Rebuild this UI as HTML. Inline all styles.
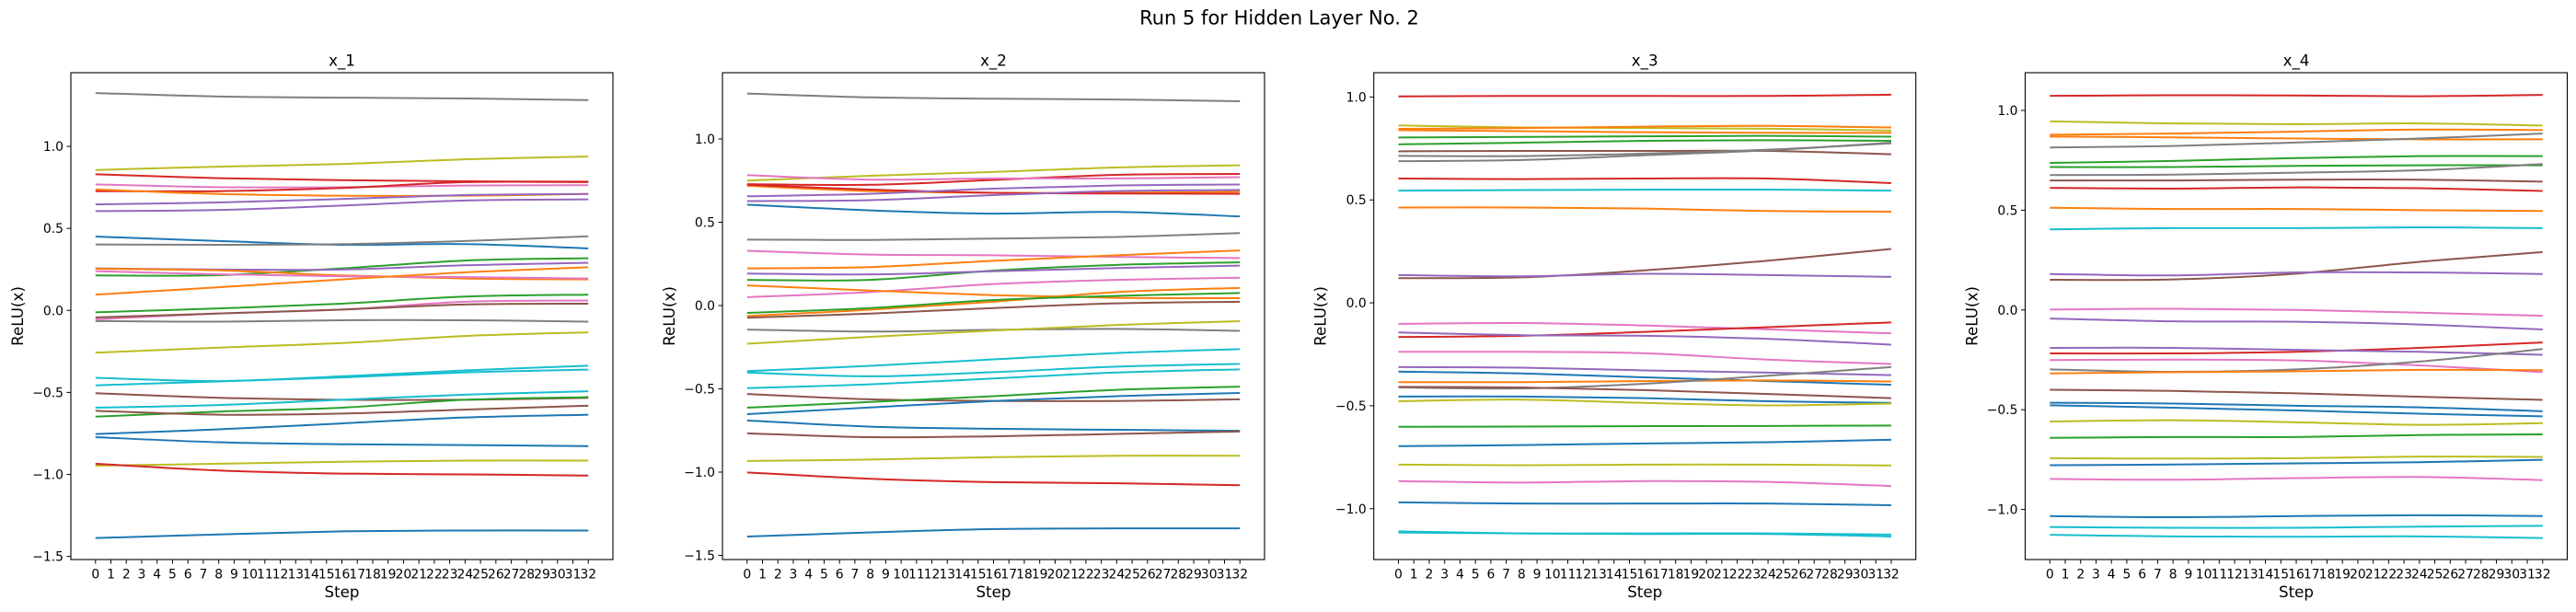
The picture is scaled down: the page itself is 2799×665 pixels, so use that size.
<!DOCTYPE html>
<html><head><meta charset="utf-8">
<style>
html,body{margin:0;padding:0;background:#fff;}
svg{display:block;font-family:"DejaVu Sans","Liberation Sans",sans-serif;}
</style></head>
<body>
<svg id="fig" width="2799" height="665" viewBox="0 0 2799 665" xmlns="http://www.w3.org/2000/svg">
<rect width="2799" height="665" fill="#fff"/>
<text x="1390" y="26.5" font-size="21" text-anchor="middle" fill="#000">Run 5 for Hidden Layer No. 2</text>
</svg>
<script>
const steps = [0, 8, 16, 24, 32];
const xTickLabels = ["0","1","2","3","4","5","6","7","8","9","10","11","12","13","14","15","16","17","18","19","20","21","22","23","24","25","26","27","28","29","30","31","32"];
const panelTitles = ["x_1", "x_2", "x_3", "x_4"];
const yTicks12 = [-1.5, -1.0, -0.5, 0.0, 0.5, 1.0];
const yTicks34 = [-1.0, -0.5, 0.0, 0.5, 1.0];
const yLims = [[-1.519, 1.449], [-1.525, 1.398], [-1.247, 1.118], [-1.251, 1.189]];

const C = {blue:"#1f77b4",orange:"#ff7f0e",green:"#2ca02c",red:"#d62728",purple:"#9467bd",brown:"#8c564b",pink:"#e377c2",gray:"#7f7f7f",olive:"#bcbd22",cyan:"#17becf"};

const colors1 = ["gray","olive","red","pink","red","orange","purple","purple","blue","gray","green","purple","orange","pink","orange","green","pink","brown","gray","olive","cyan","cyan","brown","cyan","green","brown","blue","blue","olive","red","blue"];
const values1 = [
[1.325,1.304,1.297,1.292,1.282],[0.856,0.876,0.892,0.921,0.938],[0.83,0.806,0.794,0.787,0.785],[0.768,0.751,0.751,0.761,0.763],
[0.727,0.727,0.746,0.782,0.782],[0.737,0.71,0.699,0.699,0.71],[0.646,0.658,0.679,0.703,0.71],[0.605,0.612,0.639,0.67,0.677],
[0.45,0.423,0.4,0.404,0.378],[0.402,0.4,0.404,0.423,0.452],[0.213,0.215,0.256,0.304,0.318],[0.256,0.249,0.249,0.275,0.29],
[0.254,0.244,0.213,0.194,0.189],[0.239,0.22,0.208,0.203,0.194],[0.096,0.141,0.189,0.232,0.263],[-0.012,0.012,0.041,0.084,0.096],
[-0.055,-0.019,0.005,0.053,0.06],[-0.043,-0.019,0.005,0.036,0.041],[-0.065,-0.069,-0.06,-0.06,-0.069],[-0.258,-0.227,-0.199,-0.156,-0.134],
[-0.411,-0.431,-0.402,-0.366,-0.337],[-0.457,-0.433,-0.409,-0.378,-0.361],[-0.505,-0.533,-0.545,-0.545,-0.533],[-0.593,-0.577,-0.545,-0.514,-0.493],
[-0.648,-0.617,-0.593,-0.545,-0.529],[-0.612,-0.636,-0.629,-0.605,-0.581],[-0.754,-0.725,-0.689,-0.653,-0.636],[-0.773,-0.804,-0.816,-0.821,-0.828],
[-0.947,-0.935,-0.923,-0.916,-0.916],[-0.935,-0.976,-0.995,-1.0,-1.007],[-1.388,-1.366,-1.347,-1.342,-1.342]];

const colors2 = ["gray","olive","red","pink","orange","red","purple","purple","blue","gray","pink","orange","green","purple","pink","orange","orange","green","brown","gray","olive","cyan","cyan","cyan","brown","green","blue","blue","brown","olive","red","blue"];
const values2 = [
[1.273,1.25,1.242,1.237,1.227],[0.75,0.779,0.802,0.829,0.842],[0.729,0.725,0.754,0.785,0.79],[0.783,0.756,0.763,0.763,0.771],
[0.719,0.687,0.677,0.677,0.683],[0.725,0.696,0.677,0.673,0.671],[0.656,0.671,0.702,0.721,0.727],[0.627,0.633,0.663,0.687,0.694],
[0.606,0.571,0.552,0.562,0.535],[0.396,0.394,0.402,0.412,0.435],[0.329,0.306,0.302,0.292,0.285],[0.223,0.231,0.269,0.302,0.331],
[0.154,0.154,0.21,0.244,0.26],[0.192,0.187,0.206,0.225,0.24],[0.05,0.081,0.129,0.154,0.167],[0.121,0.09,0.062,0.046,0.044],
[-0.063,-0.025,0.023,0.081,0.106],[-0.044,-0.015,0.033,0.058,0.075],[-0.073,-0.048,-0.015,0.013,0.023],[-0.144,-0.156,-0.146,-0.14,-0.152],
[-0.229,-0.188,-0.15,-0.117,-0.094],[-0.394,-0.362,-0.323,-0.285,-0.262],[-0.402,-0.425,-0.4,-0.367,-0.35],[-0.496,-0.473,-0.438,-0.402,-0.383],
[-0.531,-0.563,-0.573,-0.573,-0.563],[-0.613,-0.579,-0.544,-0.506,-0.487],[-0.652,-0.612,-0.573,-0.544,-0.525],[-0.69,-0.727,-0.74,-0.746,-0.752],
[-0.767,-0.79,-0.785,-0.771,-0.756],[-0.933,-0.925,-0.91,-0.902,-0.902],[-1.002,-1.04,-1.06,-1.067,-1.079],[-1.387,-1.362,-1.342,-1.338,-1.338]];

const colors3 = ["red","olive","orange","orange","green","green","brown","gray","gray","red","cyan","orange","brown","purple","pink","red","purple","pink","purple","blue","orange","gray","brown","blue","olive","green","blue","olive","pink","blue","cyan","cyan"];
const values3 = [
[1.003,1.005,1.005,1.005,1.011],[0.862,0.852,0.849,0.846,0.837],[0.845,0.849,0.856,0.86,0.852],[0.839,0.834,0.829,0.826,0.826],
[0.803,0.806,0.809,0.811,0.807],[0.77,0.778,0.787,0.79,0.787],[0.736,0.738,0.738,0.738,0.722],[0.714,0.713,0.725,0.744,0.775],
[0.688,0.694,0.717,0.741,0.778],[0.604,0.601,0.604,0.604,0.582],[0.545,0.548,0.55,0.55,0.545],[0.463,0.463,0.458,0.446,0.443],
[0.12,0.124,0.158,0.205,0.262],[0.135,0.129,0.141,0.135,0.126],[-0.102,-0.098,-0.11,-0.129,-0.148],[-0.166,-0.16,-0.141,-0.118,-0.095],
[-0.144,-0.157,-0.16,-0.175,-0.203],[-0.238,-0.238,-0.245,-0.276,-0.297],[-0.312,-0.315,-0.328,-0.339,-0.351],[-0.334,-0.343,-0.362,-0.38,-0.398],
[-0.385,-0.385,-0.38,-0.377,-0.382],[-0.411,-0.416,-0.393,-0.354,-0.312],[-0.408,-0.411,-0.424,-0.443,-0.463],[-0.455,-0.455,-0.463,-0.478,-0.486],
[-0.478,-0.47,-0.486,-0.498,-0.489],[-0.602,-0.601,-0.599,-0.598,-0.596],[-0.696,-0.691,-0.683,-0.677,-0.665],[-0.786,-0.789,-0.786,-0.786,-0.79],
[-0.866,-0.873,-0.866,-0.87,-0.89],[-0.969,-0.975,-0.975,-0.975,-0.983],[-1.11,-1.12,-1.12,-1.12,-1.126],[-1.116,-1.12,-1.123,-1.123,-1.135]];

const colors4 = ["red","olive","orange","orange","gray","green","green","gray","brown","red","orange","cyan","brown","purple","pink","purple","red","purple","pink","gray","orange","brown","blue","blue","olive","green","olive","blue","pink","blue","cyan","cyan"];
const values4 = [
[1.073,1.076,1.075,1.071,1.078],[0.945,0.935,0.931,0.935,0.924],[0.878,0.884,0.894,0.904,0.902],[0.869,0.865,0.859,0.855,0.855],
[0.814,0.822,0.839,0.859,0.884],[0.737,0.747,0.761,0.771,0.771],[0.716,0.716,0.722,0.725,0.725],[0.676,0.678,0.688,0.7,0.731],
[0.649,0.649,0.653,0.653,0.643],[0.612,0.608,0.614,0.61,0.596],[0.512,0.506,0.506,0.5,0.496],[0.404,0.41,0.41,0.414,0.41],
[0.151,0.153,0.182,0.241,0.29],[0.18,0.173,0.188,0.188,0.18],[0.002,0.006,0.0,-0.014,-0.029],[-0.043,-0.057,-0.059,-0.073,-0.098],
[-0.218,-0.218,-0.21,-0.19,-0.163],[-0.19,-0.19,-0.2,-0.21,-0.225],[-0.251,-0.249,-0.253,-0.278,-0.312],[-0.298,-0.31,-0.298,-0.259,-0.196],
[-0.318,-0.312,-0.308,-0.3,-0.302],[-0.4,-0.406,-0.418,-0.435,-0.451],[-0.465,-0.469,-0.48,-0.488,-0.508],[-0.478,-0.49,-0.504,-0.52,-0.533],
[-0.559,-0.553,-0.563,-0.576,-0.567],[-0.641,-0.637,-0.637,-0.627,-0.624],[-0.743,-0.745,-0.743,-0.735,-0.737],[-0.778,-0.775,-0.769,-0.763,-0.751],
[-0.847,-0.851,-0.843,-0.837,-0.853],[-1.033,-1.039,-1.033,-1.029,-1.033],[-1.088,-1.092,-1.092,-1.086,-1.082],[-1.127,-1.135,-1.137,-1.135,-1.143]];

const allColors = [colors1, colors2, colors3, colors4];
const allValues = [values1, values2, values3, values4];
const allTicks = [yTicks12, yTicks12, yTicks34, yTicks34];

const NS = "http://www.w3.org/2000/svg";
const fig = document.getElementById("fig");
const lefts = [77, 785, 1492.7, 2200.5];
const W = 589, TOP = 79, BOT = 608;
const XMIN = -1.6, XMAX = 33.6;

function mk(tag, attrs, parent) {
  const e = document.createElementNS(NS, tag);
  for (const k in attrs) e.setAttribute(k, attrs[k]);
  (parent || fig).appendChild(e);
  return e;
}
function fmt(v) {
  const s = Math.abs(v).toFixed(1);
  return (v < 0 ? "\u2212" : "") + s;
}
function smoothPath(pts) {
  let d = "M" + pts[0][0].toFixed(2) + "," + pts[0][1].toFixed(2);
  for (let i = 0; i < pts.length - 1; i++) {
    const p0 = pts[i - 1] || pts[i], p1 = pts[i], p2 = pts[i + 1], p3 = pts[i + 2] || p2;
    const c1x = p1[0] + (p2[0] - p0[0]) / 6, c1y = p1[1] + (p2[1] - p0[1]) / 6;
    const c2x = p2[0] - (p3[0] - p1[0]) / 6, c2y = p2[1] - (p3[1] - p1[1]) / 6;
    d += " C" + c1x.toFixed(2) + "," + c1y.toFixed(2) + " " + c2x.toFixed(2) + "," + c2y.toFixed(2) + " " + p2[0].toFixed(2) + "," + p2[1].toFixed(2);
  }
  return d;
}

for (let p = 0; p < 4; p++) {
  const L = lefts[p];
  const [ymin, ymax] = yLims[p];
  const xs = s => L + (s - XMIN) / (XMAX - XMIN) * W;
  const ys = v => BOT - (v - ymin) / (ymax - ymin) * (BOT - TOP);
  const g = mk("g", {});
  
  

  const lines = mk("g", {}, g);
  
  
  const vals = allValues[p], cols = allColors[p];
  for (let i = 0; i < vals.length; i++) {
    const pts = steps.map((s, j) => [xs(s), ys(vals[i][j])]);
    const path = mk("path", {d: smoothPath(pts), fill: "none", stroke: C[cols[i]], "stroke-width": 2, "stroke-linejoin": "round"}, lines);
    
    
  }

  const frame = mk("rect", {x: L, y: TOP, width: W, height: BOT - TOP, fill: "none", stroke: "#000", "stroke-width": 1.1}, g);
  
  

  const xt = mk("g", {}, g);
  
  
  for (let s = 0; s < xTickLabels.length; s++) {
    const x = xs(s);
    mk("line", {x1: x, y1: BOT, x2: x, y2: BOT + 4.5, stroke: "#000", "stroke-width": 1}, xt);
    const t = mk("text", {x: x, y: 628.5, "font-size": 13.9, "text-anchor": "middle", fill: "#000"}, xt);
    
    
    t.textContent = xTickLabels[s];
  }
  const yt = mk("g", {}, g);
  
  
  for (const v of allTicks[p]) {
    const y = ys(v);
    mk("line", {x1: L - 4.5, y1: y, x2: L, y2: y, stroke: "#000", "stroke-width": 1}, yt);
    const t = mk("text", {x: L - 8, y: y + 5, "font-size": 13.9, "text-anchor": "end", fill: "#000"}, yt);
    
    
    t.textContent = fmt(v);
  }
  const title = mk("text", {x: L + W / 2, y: 71.5, "font-size": 16.7, "text-anchor": "middle", fill: "#000"}, g);
  
  
  title.textContent = panelTitles[p];

  const xl = mk("text", {x: L + W / 2, y: 649, "font-size": 16.7, "text-anchor": "middle", fill: "#000"}, g);
  
  
  xl.textContent = "Step";

  const cy = (TOP + BOT) / 2;
  const yl = mk("text", {x: L - 52, y: cy, "font-size": 16.7, "text-anchor": "middle", fill: "#000", transform: "rotate(-90 " + (L - 52) + " " + cy + ")"}, g);
  
  
  yl.textContent = "ReLU(x)";
}
</script>
</body></html>
